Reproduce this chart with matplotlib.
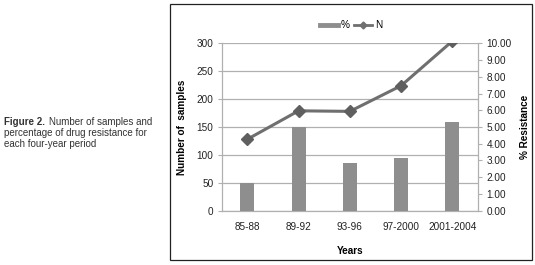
import numpy as np
import matplotlib.pyplot as plt
from matplotlib.lines import Line2D
from matplotlib.patches import Rectangle

plt.rcParams['font.family'] = ['Liberation Sans', 'DejaVu Sans']

periods = ["85-88", "89-92", "93-96", "97-2000", "2001-2004"]
n_samples = [128, 179, 178, 224, 304]
pct_resistance = [1.63, 4.98, 2.83, 3.13, 5.28]

left_ticks = [0, 50, 100, 150, 200, 250, 300]
right_ticks = [0, 1, 2, 3, 4, 5, 6, 7, 8, 9, 10]

bar_col = "#8e8e8e"
line_col = "#6f6f6f"
grid_col = "#b0b0b0"

fig = plt.figure(figsize=(5.35, 2.65), dpi=100)

# outer frame round the chart
fig.patches.append(Rectangle((170 / 535, 5 / 265), 362 / 535, 256 / 265,
                             transform=fig.transFigure, fill=False,
                             edgecolor="#222222", linewidth=0.9))

pos = [221.7 / 535, 1 - 210.7 / 265, 256.3 / 535, 167.4 / 265]
x = np.arange(len(periods))

# left axis: grid + ticks
ax = fig.add_axes(pos)
ax.set_xlim(-0.5, len(periods) - 0.5)
ax.set_ylim(0, 300)
ax.set_yticks(left_ticks)
ax.yaxis.grid(True, color=grid_col, linewidth=0.9)
ax.set_axisbelow(True)
ax.set_xticks(x)
ax.set_xticklabels(periods)
ax.tick_params(axis="x", length=0, pad=8, labelsize=7.2, colors="#222222")
ax.tick_params(axis="y", length=3, width=0.8, color=grid_col, labelsize=7.2,
               labelcolor="#222222", pad=3)
for s in ["top", "right"]:
    ax.spines[s].set_visible(False)
for s in ["left", "bottom"]:
    ax.spines[s].set_color(grid_col)
    ax.spines[s].set_linewidth(0.9)
ax.set_ylabel("Number of  samples", fontsize=7.2, fontweight="bold", labelpad=7)
ax.set_xlabel("Years", fontsize=7.2, fontweight="bold", labelpad=10)

# right axis: bars (%)
ax2 = ax.twinx()
ax2.set_ylim(0, 10)
ax2.set_yticks(right_ticks)
ax2.set_yticklabels(["%.2f" % v for v in right_ticks])
ax2.bar(x, pct_resistance, width=0.27, color=bar_col, zorder=2)
ax2.tick_params(axis="y", length=3, width=0.8, color=grid_col, labelsize=7.2,
                labelcolor="#222222", pad=3)
for s in ["top", "left", "bottom"]:
    ax2.spines[s].set_visible(False)
ax2.spines["right"].set_color(grid_col)
ax2.spines["right"].set_linewidth(0.9)
ax2.set_ylabel("% Resistance", fontsize=7.2, fontweight="bold", labelpad=6)

# line (N) on top, shares left scale, clipped at 300
ax3 = fig.add_axes(pos, sharey=ax, frameon=False)
ax3.set_xlim(-0.5, len(periods) - 0.5)
ax3.plot(x, n_samples, color=line_col, linewidth=2.2, marker="D",
         markersize=6, markerfacecolor="#5f5f5f", markeredgecolor="#5f5f5f",
         clip_on=True)
ax3.axis("off")

handles = [Line2D([], [], color=bar_col, linewidth=3.5),
           Line2D([], [], color=line_col, linewidth=2, marker="D", markersize=3.5)]
fig.legend(handles, ["%", "N"], loc="center", bbox_to_anchor=(351 / 535, 1 - 25 / 265),
           ncol=2, frameon=False, fontsize=7.2, handlelength=1.8, handletextpad=0.3,
           columnspacing=0.4)

# caption at left
cap_col = "#333333"
fig.text(4 / 535, 1 - 122 / 265, "Figure 2.", fontsize=7, fontweight="bold",
         color=cap_col, va="center")
fig.text(49 / 535, 1 - 122 / 265, "Number of samples and", fontsize=7,
         color=cap_col, va="center")
fig.text(4 / 535, 1 - 133 / 265, "percentage of drug resistance for", fontsize=7,
         color=cap_col, va="center")
fig.text(4 / 535, 1 - 144 / 265, "each four-year period", fontsize=7,
         color=cap_col, va="center")

fig.savefig("out.png", dpi=100)
